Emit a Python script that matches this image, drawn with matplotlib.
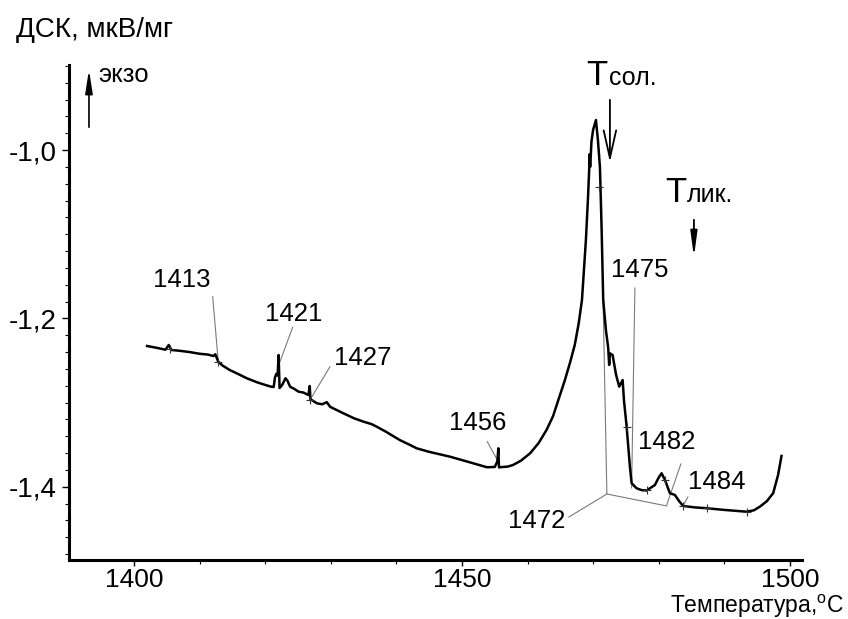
import matplotlib
matplotlib.use("Agg")
import matplotlib.pyplot as plt
from matplotlib.ticker import MultipleLocator

plt.rcParams['font.family'] = ['Liberation Sans', 'DejaVu Sans']
plt.rcParams['mathtext.fontset'] = 'custom'
plt.rcParams['mathtext.rm'] = 'Liberation Sans'

# DSC curve
temp = [1402.0, 1403.5, 1404.8, 1405.3, 1405.7, 1407.0, 1408.5, 1410.0, 1411.3, 1412.1,
        1412.4, 1412.85, 1413.5, 1414.6, 1416.0, 1417.2, 1418.8, 1420.0, 1420.9, 1421.3,
        1421.5, 1421.7, 1421.9, 1422.05, 1422.2, 1422.6, 1423.1, 1423.4, 1423.8, 1424.5,
        1425.1, 1425.8, 1426.6, 1426.8, 1426.9, 1427.9, 1428.7, 1429.4, 1429.9, 1430.9,
        1432.0, 1433.5, 1435.0, 1436.2, 1437.0, 1438.5, 1440.5, 1442.0, 1443.1, 1445.0,
        1448.2, 1451.0, 1453.8, 1455.0, 1455.4, 1455.55, 1455.65, 1455.8, 1457.0, 1457.8,
        1459.0, 1460.4, 1461.7, 1462.9, 1463.9, 1464.7, 1465.7, 1466.5, 1467.2, 1467.8,
        1468.3, 1468.9, 1469.2, 1469.4, 1469.45, 1469.55, 1469.75, 1470.0, 1470.43, 1470.73,
        1471.04, 1471.3, 1471.54, 1471.95, 1472.3, 1472.45, 1472.56, 1472.97, 1473.5, 1473.98,
        1474.5, 1474.7, 1475.11, 1475.61, 1475.87, 1476.63, 1477.4, 1478.16, 1479.42, 1480.0,
        1480.44, 1480.95, 1481.71, 1482.47, 1483.1, 1483.73, 1485.5, 1487.3, 1490.0, 1493.39,
        1494.5, 1495.43, 1496.5, 1497.45, 1498.2, 1498.72]
dsc = [-1.2328, -1.2350, -1.2372, -1.2316, -1.2375, -1.2385, -1.2400, -1.2420, -1.2430, -1.2447,
       -1.2426, -1.2514, -1.2560, -1.2613, -1.2665, -1.2711, -1.2760, -1.2790, -1.2811, -1.2815,
       -1.2700, -1.2660, -1.2680, -1.2435, -1.2827, -1.2790, -1.2711, -1.2740, -1.2811, -1.2840,
       -1.2871, -1.2880, -1.2910, -1.2803, -1.2960, -1.3009, -1.3020, -1.2995, -1.3050, -1.3088,
       -1.3130, -1.3185, -1.3227, -1.3255, -1.3286, -1.3350, -1.3444, -1.3500, -1.3543, -1.3585,
       -1.3643, -1.3705, -1.3768, -1.3765, -1.3700, -1.3543, -1.3770, -1.3768, -1.3760, -1.3741,
       -1.3690, -1.3602, -1.3480, -1.3325, -1.3160, -1.2969, -1.2732, -1.2520, -1.2316, -1.2060,
       -1.1781, -1.1070, -1.0600, -1.0238, -1.0050, -1.0200, -0.9900, -0.9760, -0.9644, -0.9880,
       -1.0202, -1.0950, -1.1780, -1.2138, -1.2350, -1.2553, -1.2415, -1.2435, -1.2670, -1.2811,
       -1.2732, -1.2970, -1.3286, -1.3761, -1.3958, -1.4018, -1.4040, -1.4044, -1.3979, -1.3890,
       -1.3840, -1.3919, -1.4077, -1.4097, -1.4170, -1.4228, -1.4245, -1.4255, -1.4275, -1.4296,
       -1.4280, -1.4236, -1.4170, -1.4076, -1.3860, -1.3634]

# small "+" marks on the curve
mark_t = [1405.49, 1412.85, 1426.83, 1470.93, 1475.11, 1478.16, 1480.95, 1483.73, 1487.3, 1493.39]
mark_y = [-1.2367, -1.2514, -1.2969, -1.0436, -1.3286, -1.4044, -1.3919, -1.4228, -1.4255, -1.4296]

# point labels and their leader lines
labels = ['1413', '1421', '1427', '1456', '1472', '1475', '1482', '1484']
label_t = [1407.27, 1424.28, 1434.91, 1452.36, 1461.36, 1477.13, 1481.25, 1488.83]
label_y = [-1.1544, -1.1948, -1.2470, -1.3242, -1.4406, -1.1425, -1.3464, -1.3939]
leaders = [
    ([1412.0, 1412.85], [-1.1742, -1.2514]),
    ([1424.19, 1422.26], [-1.2106, -1.2514]),
    ([1429.88, 1426.83], [-1.2574, -1.2969]),
    ([1453.86, 1455.53], [-1.3464, -1.3702]),
    ([1466.31, 1472.10, 1471.49], [-1.4359, -1.4086, -1.1663]),
    ([1472.10, 1481.22], [-1.4086, -1.4228]),
    ([1476.37, 1475.87], [-1.1639, -1.4014]),
    ([1483.38, 1481.22], [-1.3729, -1.4216]),
    ([1484.45, 1483.69], [-1.4121, -1.4228]),
]

fig = plt.figure(figsize=(8.48, 6.19), dpi=100)
ax = fig.add_axes([0.0814, 0.0953, 0.8640, 0.7997])

for lx, ly in leaders:
    ax.plot(lx, ly, color='#7a7a7a', lw=0.8)
ax.plot(temp, dsc, color='black', lw=1.8)
ax.plot(mark_t, mark_y, ls='none', marker='+', ms=6, mew=0.8, color='#333333')

for s, tx, ty in zip(labels, label_t, label_y):
    ax.text(tx, ty, s, fontsize=18.5, ha='center', va='center')

ax.set_xlim(1390.1, 1501.8)
ax.set_ylim(-1.487, -0.899)
ax.set_xticks([1400, 1450, 1500])
ax.set_yticks([-1.0, -1.2, -1.4])
ax.set_yticklabels(['-1,0', '-1,2', '-1,4'])
ax.xaxis.set_minor_locator(MultipleLocator(10))
ax.yaxis.set_minor_locator(MultipleLocator(0.02))
ax.tick_params(axis='x', which='major', length=4, width=1, labelsize=19, pad=2)
ax.tick_params(axis='y', which='major', length=5, width=1, labelsize=20, pad=4)
ax.tick_params(which='minor', length=3, width=0.8)
for side in ['top', 'right']:
    ax.spines[side].set_visible(False)
for side in ['left', 'bottom']:
    ax.spines[side].set_linewidth(2.2)

# exo arrow
ax.annotate('', xy=(1393.14, -0.9014), xytext=(1393.14, -0.9762),
            arrowprops=dict(arrowstyle='-|>,head_length=1.4,head_width=0.22', lw=1.2, color='black'))
ax.text(1394.5, -0.911, 'экзо', fontsize=18.5, va='center', ha='left')

# solidus / liquidus marks
ax.text(1469.0, -0.9228, 'T', fontsize=25, va='baseline', ha='left')
ax.text(1472.45, -0.9228, 'сол.', fontsize=18, va='baseline', ha='left')
ax.annotate('', xy=(1472.56, -1.0178), xytext=(1472.56, -0.9371),
            arrowprops=dict(arrowstyle='->,head_length=2.0,head_width=0.45', lw=1.3, color='black'))
ax.text(1480.95, -1.0614, 'T', fontsize=25, va='baseline', ha='left')
ax.text(1484.25, -1.0614, 'лик.', fontsize=18, va='baseline', ha='left')
ax.annotate('', xy=(1485.37, -1.1306), xytext=(1485.37, -1.0796),
            arrowprops=dict(arrowstyle='-|>,head_length=1.5,head_width=0.2', lw=1.3, color='black'))

fig.text(16 / 848, 1 - 37 / 619, 'ДСК, мкВ/мг', fontsize=20, ha='left', va='baseline')
fig.text(0.995, 1 - 606 / 619, r'Температура,$^{\mathrm{o}}$C', fontsize=16.5, ha='right', va='center')

fig.savefig('out.png', dpi=100)
